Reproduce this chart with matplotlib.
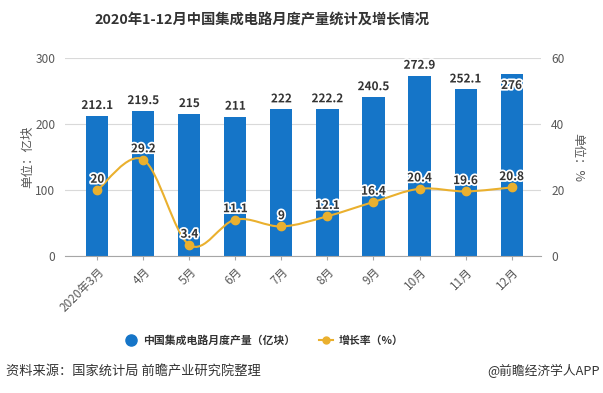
import matplotlib.pyplot as plt
import matplotlib.patheffects as pe
from matplotlib.path import Path
from matplotlib.patches import PathPatch

plt.rcParams['font.family'] = ['Noto Sans CJK SC', 'DejaVu Sans']

# Data
months = ['2020年3月', '4月', '5月', '6月', '7月', '8月', '9月', '10月', '11月', '12月']
output = [212.1, 219.5, 215, 211, 222, 222.2, 240.5, 272.9, 252.1, 276]
output_labels = ['212.1', '219.5', '215', '211', '222', '222.2', '240.5', '272.9', '252.1', '276']
growth = [20, 29.2, 3.4, 11.1, 9, 12.1, 16.4, 20.4, 19.6, 20.8]
growth_labels = ['20', '29.2', '3.4', '11.1', '9', '12.1', '16.4', '20.4', '19.6', '20.8']

bar_color = '#1575C8'
line_color = '#EAB02E'
txt_color = '#595959'

fig = plt.figure(figsize=(6.03, 3.93), dpi=100)
ax = fig.add_axes([0.108, 0.348, 0.79, 0.505])
x = list(range(len(months)))

ax.bar(x, output, width=0.48, color=bar_color, zorder=2)
ax.set_ylim(0, 300)
ax.set_yticks([0, 100, 200, 300])
ax.set_xlim(-0.7, 9.65)
ax.grid(axis='y', color='#D9D9D9', lw=0.8, zorder=0)
for s in ['top', 'right', 'left']:
    ax.spines[s].set_visible(False)
ax.spines['bottom'].set_color('#A6A6A6')
ax.tick_params(axis='y', length=0, labelsize=8.6, colors=txt_color, pad=7)
ax.tick_params(axis='x', length=3, color='#A6A6A6', labelsize=8.5, colors=txt_color)
ax.set_xticks(x)
ax.set_xticklabels(months, rotation=45, ha='right', rotation_mode='anchor')
ax.set_ylabel('单位：亿块', fontsize=9, color=txt_color)
ax.yaxis.set_label_coords(-0.064, 0.5)

stroke = [pe.withStroke(linewidth=2.5, foreground='white')]
for i, (v, lab) in enumerate(zip(output, output_labels)):
    if i == len(output) - 1:
        ax.text(i, v - 8, lab, ha='center', va='top', fontsize=8.5, fontweight='bold',
                color='#333333', path_effects=stroke, zorder=5)
    else:
        ax.text(i, v + 6, lab, ha='center', va='bottom', fontsize=8.5, fontweight='bold',
                color='#333333', path_effects=stroke, zorder=5)

ax2 = ax.twinx()
# smooth line through the points (Catmull-Rom as cubic Bezier)
pts = list(zip(x, growth))
verts = [pts[0]]
codes = [Path.MOVETO]
n = len(pts)
for i in range(n - 1):
    p0 = pts[i - 1] if i > 0 else pts[i]
    p1 = pts[i]
    p2 = pts[i + 1]
    p3 = pts[i + 2] if i + 2 < n else pts[i + 1]
    c1 = (p1[0] + (p2[0] - p0[0]) / 6, p1[1] + (p2[1] - p0[1]) / 6)
    c2 = (p2[0] - (p3[0] - p1[0]) / 6, p2[1] - (p3[1] - p1[1]) / 6)
    verts += [c1, c2, p2]
    codes += [Path.CURVE4] * 3
ax2.add_patch(PathPatch(Path(verts, codes), fill=False, edgecolor=line_color, lw=1.5, zorder=3))
ax2.plot(x, growth, ls='none', color=line_color, marker='o', markersize=6, zorder=4)
ax2.set_ylim(0, 60)
ax2.set_yticks([0, 20, 40, 60])
for s in ['top', 'right', 'left', 'bottom']:
    ax2.spines[s].set_visible(False)
ax2.tick_params(axis='y', length=0, labelsize=8.6, colors=txt_color, pad=7)
ax2.set_ylabel('单位：%', fontsize=9, color=txt_color, rotation=270, va='center')
ax2.yaxis.set_label_coords(1.076, 0.5)
for i, (v, lab) in enumerate(zip(growth, growth_labels)):
    ax2.text(i, v + 1.3, lab, ha='center', va='bottom', fontsize=8.5, fontweight='bold',
             color='#333333', path_effects=stroke, zorder=5)

fig.suptitle('2020年1-12月中国集成电路月度产量统计及增长情况', x=0.435, y=0.965,
             fontsize=10.3, fontweight='bold', color='#333333')

# legend
h1 = plt.Line2D([], [], ls='none', marker='o', markersize=8, color=bar_color)
h2 = plt.Line2D([], [], color=line_color, lw=1.5, marker='o', markersize=5)
fig.legend([h1, h2], ['中国集成电路月度产量（亿块）', '增长率（%）'], loc='center',
           bbox_to_anchor=(0.437, 0.133), ncol=2, frameon=False,
           prop={'size': 7.8, 'weight': 'bold'},
           handlelength=1.3, handletextpad=0.5, columnspacing=2.2, labelcolor='#333333')

fig.text(0.01, 0.055, '资料来源：国家统计局 前瞻产业研究院整理', fontsize=9.5, color='#333333', va='center')
fig.text(0.995, 0.055, '@前瞻经济学人APP', fontsize=9.2, color='#333333', va='center', ha='right')

fig.savefig('out.png', dpi=100)
